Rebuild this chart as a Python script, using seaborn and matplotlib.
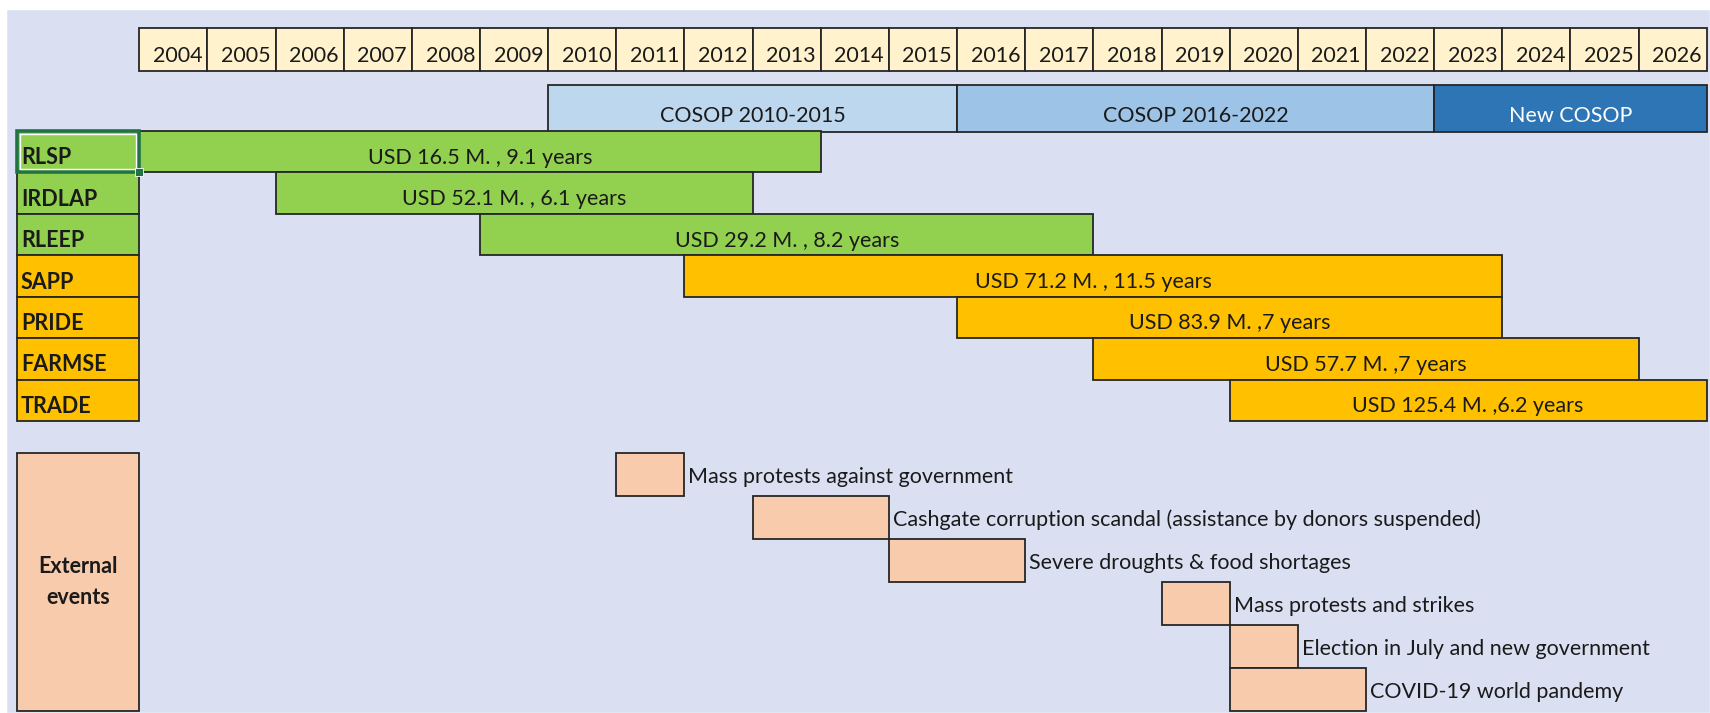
import matplotlib
matplotlib.use("Agg")
import matplotlib.pyplot as plt
import seaborn as sns

# -----------------------------
# DATA
# -----------------------------

YEARS = list(range(2004, 2027))

COSOP_NAMES = ["COSOP 2010-2015", "COSOP 2016-2022", "New COSOP"]
COSOP_START = [2010, 2016, 2023]
COSOP_END = [2016, 2023, 2027]

PROGRAMS = ["RLSP", "IRDLAP", "RLEEP", "SAPP", "PRIDE", "FARMSE", "TRADE"]
PROG_START = [2004, 2006, 2009, 2012, 2016, 2018, 2020]
PROG_END = [2014, 2013, 2018, 2024, 2024, 2026, 2027]
PROG_LABELS = [
    "USD 16.5 M. , 9.1 years",
    "USD 52.1 M. , 6.1 years",
    "USD 29.2 M. , 8.2 years",
    "USD 71.2 M. , 11.5 years",
    "USD 83.9 M. ,7 years",
    "USD 57.7 M. ,7 years",
    "USD 125.4 M. ,6.2 years",
]
PROG_GROUP = ["old", "old", "old", "new", "new", "new", "new"]

EVENTS = [
    "Mass protests against government",
    "Cashgate corruption scandal (assistance by donors suspended)",
    "Severe droughts & food shortages",
    "Mass protests and strikes",
    "Election in July and new government",
    "COVID-19 world pandemy",
]
EVENT_START = [2011, 2013, 2015, 2019, 2020, 2020]
EVENT_END = [2012, 2015, 2017, 2020, 2021, 2022]

# -----------------------------
# STYLE
# -----------------------------

BG = "#DAE0F2"
HEADER = "#FFF2CC"
COSOP_COLORS = ["#BDD7EE", "#9DC3E6", "#2E75B6"]
COSOP_TEXT = ["#1a1a1a", "#1a1a1a", "white"]
GROUP_COLORS = {"old": "#92D050", "new": "#FFC000"}
EVENT_COLOR = "#F8CBAD"
EDGE = "#262626"
TXT = "#1a1a1a"

sns.set_theme(style="white")
plt.rcParams["font.family"] = ["Lato", "DejaVu Sans"]

W, H = 1710, 713
LEFT_PX, RIGHT_PX = 139.3, 1706.7
COLW = (RIGHT_PX - LEFT_PX) / len(YEARS)
X0 = YEARS[0] - LEFT_PX / COLW


def px(p):
    # pixel column -> year scale
    return X0 + p / COLW


fig = plt.figure(figsize=(W / 100, H / 100), dpi=100)
fig.patch.set_facecolor("white")
ax = fig.add_axes([0, 0, 1, 1])
ax.set_xlim(X0, X0 + W / COLW)
ax.set_ylim(H, 0)
ax.axis("off")

lw = 1.3
fs = 15.5

# background sheet
ax.barh(y=(9 + H) / 2, width=px(W) - px(6), left=px(6), height=H - 9,
        color=BG, zorder=0)

# year header
hy, hh = 28, 43
ax.barh([hy + hh / 2] * len(YEARS), [1] * len(YEARS), left=YEARS, height=hh,
        color=HEADER, edgecolor=EDGE, linewidth=lw, zorder=2)
for yr in YEARS:
    ax.text(yr + 1 - 5 / COLW, hy + hh / 2 + 6, str(yr), ha="right",
            va="center", fontsize=fs, color=TXT, zorder=5)

# COSOP periods
cy, ch = 85, 47
for name, s, e, c, tc in zip(COSOP_NAMES, COSOP_START, COSOP_END,
                             COSOP_COLORS, COSOP_TEXT):
    ax.barh(cy + ch / 2, e - s, left=s, height=ch, color=c,
            edgecolor=EDGE, linewidth=lw, zorder=2)
    ax.text((s + e) / 2, cy + ch / 2 + 8, name, ha="center", va="center",
            fontsize=fs, color=tc, zorder=5)

# programmes
py, ph = 131, 41.43
lab_l, lab_r = px(17.3), YEARS[0]
for i, (name, s, e, lab, g) in enumerate(zip(PROGRAMS, PROG_START, PROG_END,
                                             PROG_LABELS, PROG_GROUP)):
    yc = py + ph * i + ph / 2
    col = GROUP_COLORS[g]
    ax.barh(yc, lab_r - lab_l, left=lab_l, height=ph, color=col,
            edgecolor=EDGE, linewidth=lw, zorder=2)
    ax.text(px(21), yc + 6, name, ha="left", va="center", fontsize=fs,
            fontweight="bold", color=TXT, zorder=5)
    ax.barh(yc, e - s, left=s, height=ph, color=col,
            edgecolor=EDGE, linewidth=lw, zorder=2)
    ax.text((s + e) / 2, yc + 6, lab, ha="center", va="center",
            fontsize=fs, color=TXT, zorder=5)

# excel selection frame on the first label cell
ax.barh(py + ph / 2, lab_r - lab_l, left=lab_l, height=ph, color="none",
        edgecolor="#217346", linewidth=2.6, zorder=3)
ax.barh(py + ph / 2, lab_r - lab_l - 6 / COLW, left=lab_l + 3 / COLW,
        height=ph - 6, color="none", edgecolor="white", linewidth=1.0,
        zorder=3)
ax.barh(py + ph, 8 / COLW, left=lab_r - 4 / COLW, height=8,
        color="#217346", edgecolor="white", linewidth=0.6, zorder=4)

# external events
ey, eh = 452.7, 43
ax.barh(ey + eh * len(EVENTS) / 2, lab_r - lab_l, left=lab_l,
        height=eh * len(EVENTS), color=EVENT_COLOR, edgecolor=EDGE,
        linewidth=lw, zorder=2)
ax.text((lab_l + lab_r) / 2, ey + eh * len(EVENTS) / 2, "External\nevents",
        ha="center", va="center", fontsize=fs, fontweight="bold", color=TXT,
        linespacing=1.6, zorder=5)
for j, (ev, s, e) in enumerate(zip(EVENTS, EVENT_START, EVENT_END)):
    yc = ey + eh * j + eh / 2
    ax.barh(yc, e - s, left=s, height=eh, color=EVENT_COLOR,
            edgecolor=EDGE, linewidth=lw, zorder=2)
    ax.text(e + 4 / COLW, yc + 3, ev, ha="left", va="center", fontsize=fs,
            color=TXT, zorder=5)

fig.savefig("out.png", dpi=100)
